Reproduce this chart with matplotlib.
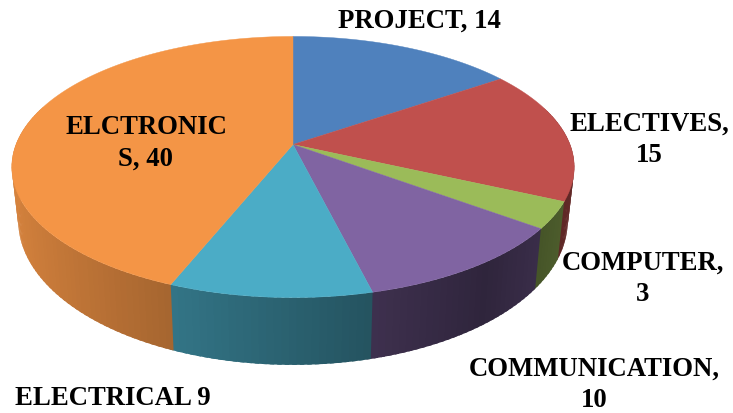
import numpy as np
import matplotlib
matplotlib.use("Agg")
import matplotlib.pyplot as plt
from matplotlib.patches import Polygon

plt.rcParams['font.family'] = ['Liberation Serif', 'DejaVu Serif']

categories = ["PROJECT", "ELECTIVES", "COMPUTER", "COMMUNICATION", "ELECTRICAL", "ELECTRONICS"]
values = [14, 15, 3, 10, 9, 40]
colors = ["#4F81BD", "#C0504D", "#9BBB59", "#8064A2", "#4BACC6", "#F49546"]
label_texts = ["PROJECT, 14", "ELECTIVES,\n15", "COMPUTER,\n3",
               "COMMUNICATION,\n10", "ELECTRICAL 9", "ELCTRONIC\nS, 40"]
label_xy = [(419, 21), (649, 139.5), (643, 278.5), (594, 385), (113, 399), (146, 143.5)]

# Perspective parameters for the tilted disc
CX, RX, K = 293, 277, 0.1724
TOP_A, TOP_B = 145.5, -101.6
BOT_A, BOT_B, BOT_SCALE = 196.8, -106, 0.977


def top_plane(u, v):
    w = 1 + K * v
    return CX + RX * u / w, (TOP_A + TOP_B * v) / w


def bottom_plane(u, v):
    w = 1 + K * v
    return CX + BOT_SCALE * RX * u / w, (BOT_A + BOT_B * v) / w


def side_shade(u):
    # Walls darken from left to right, with a small lift at the far right
    return max(0.56 - 0.32 * u, 0.37 + (u - 0.6) * 0.4)


fig = plt.figure(figsize=(7.33, 4.14), dpi=100)
ax = fig.add_axes([0, 0, 1, 1])
ax.set_xlim(0, 733)
ax.set_ylim(414, 0)
ax.axis("off")

edges = np.cumsum([0] + values) / sum(values) * 2 * np.pi

# Outer walls: strips run clockwise and each one overlaps the next, which hides the seams
z = 2.0
for i, col in enumerate(colors):
    n = max(4, int(values[i] * 3))
    ts = np.linspace(edges[i], edges[i + 1], n + 1)
    step = ts[1] - ts[0]
    rgb = np.array(matplotlib.colors.to_rgb(col))
    for a in ts[:-1]:
        if np.cos(a + step / 2) > 0.3:
            continue
        arc = np.linspace(a, a + step * 1.6, 6)
        upper = [top_plane(np.sin(t), np.cos(t)) for t in arc]
        lower = [bottom_plane(np.sin(t), np.cos(t)) for t in arc[::-1]]
        c = np.clip(rgb * side_shade(np.sin(a + step / 2)), 0, 1)
        ax.add_patch(Polygon(upper + lower, closed=True, facecolor=c, edgecolor="none", zorder=z))
        z += 0.001

# Top face of each slice
for i, col in enumerate(colors):
    ts = np.linspace(edges[i], edges[i + 1], 200)
    pts = [top_plane(0, 0)] + [top_plane(np.sin(t), np.cos(t)) for t in ts]
    ax.add_patch(Polygon(pts, closed=True, facecolor=col, edgecolor=col, linewidth=0.3, zorder=10))

for text, (x, y) in zip(label_texts, label_xy):
    ax.text(x, y, text, ha="center", va="center", fontsize=19.3, fontweight="bold",
            color="black", linespacing=1.33, zorder=12)

fig.savefig("out.png", dpi=100)
